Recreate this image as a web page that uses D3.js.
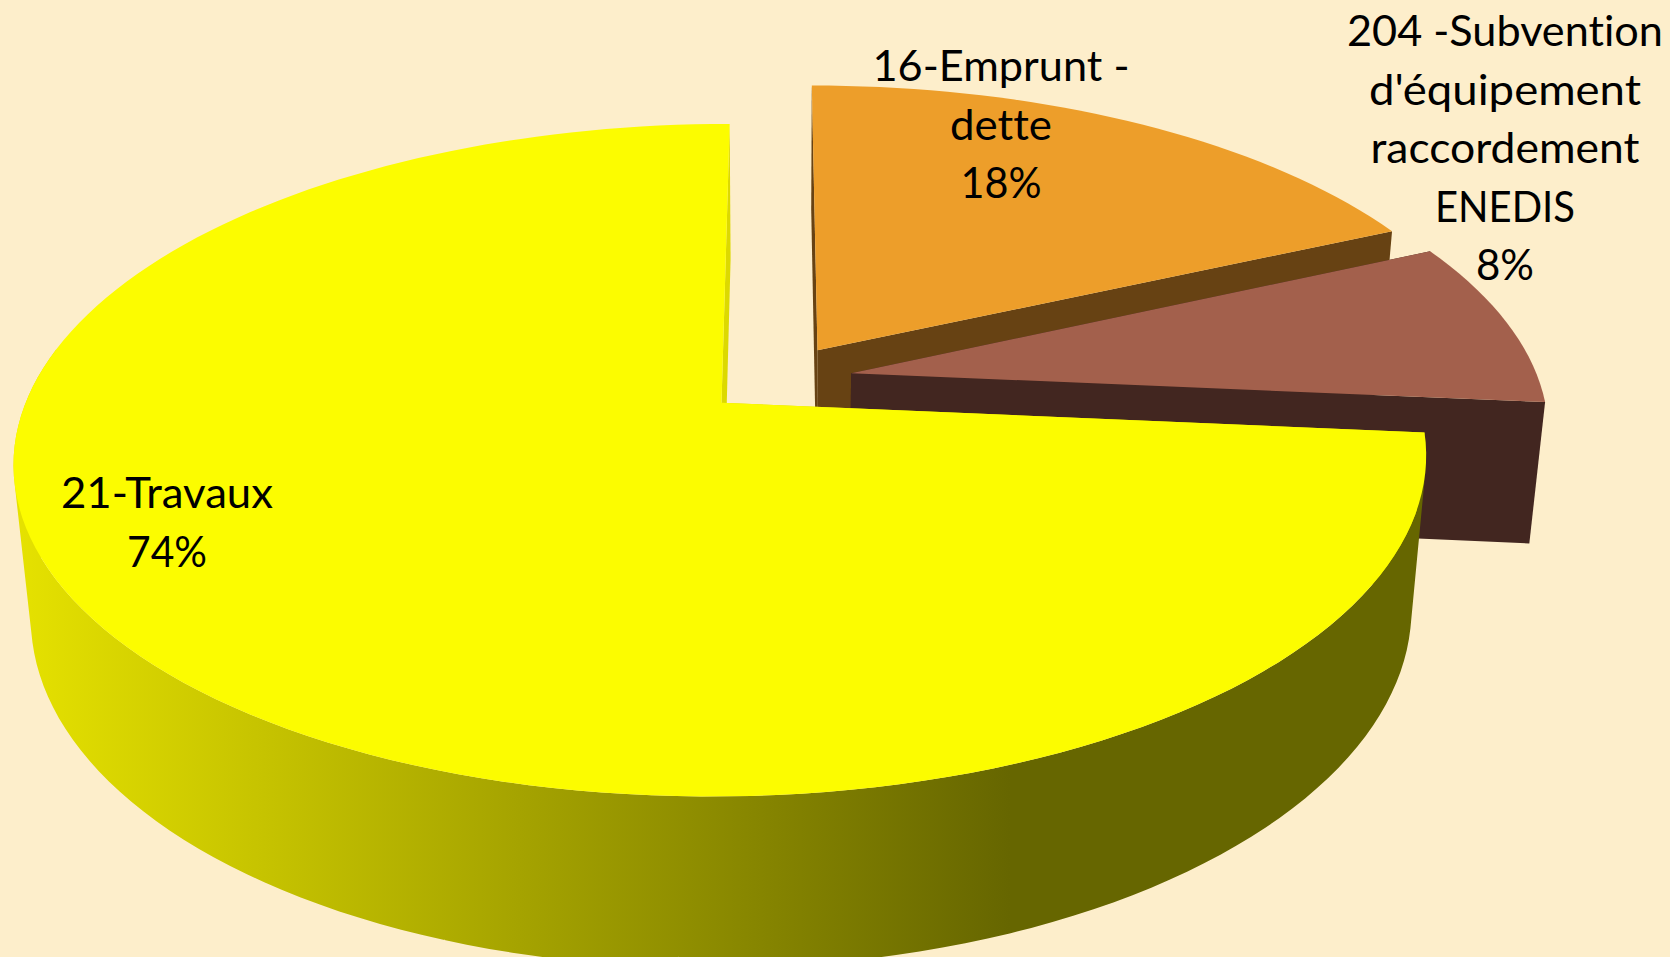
<!DOCTYPE html>
<html lang="fr">
<head>
<meta charset="utf-8">
<title>Investissement</title>
<script src="https://cdn.jsdelivr.net/npm/d3@7"></script>
<style>
  html, body { margin: 0; padding: 0; background: #fdeecb; overflow: hidden; }
  svg { display: block; }
  text { font-family: Lato, "Noto Sans", sans-serif; fill: #000; font-variant-ligatures: none; }
</style>
</head>
<body>
<script>
// values
var categories = ["16-Emprunt - dette", "204 -Subvention d'équipement raccordement ENEDIS", "21-Travaux"];
var values = [18.24, 8.19, 73.57];
var labelLines = [
  ["16-Emprunt -", "dette", "18%"],
  ["204 -Subvention", "d'équipement", "raccordement", "ENEDIS", "8%"],
  ["21-Travaux", "74%"]
];

var topColors = ["#ed9e2a", "#a3604c", "#fcfc00"];
var sideColors = ["#674213", "#422620", "#dcd900"];
var sliceThick = [0.235, 0.235, 0.252];
var labelX = [1001, 1505, 167];
var labelY = [81, 46, 508];
// line widths in px, Lato is not quite Calibri
var labelWidths = [
  [257, 102, 81],
  [316, 272, 269, 140, 58],
  [212, 80]
];

var w = 1670, h = 957;
var lineGap = 58.5;
var fontSize = 43;

// 3d camera looking down on the pie
var tilt = 27.6 * Math.PI / 180;
var camDist = 5.25;
var focal = 3608;
var camX = 777.5, camY = 379;
var explode = 0.109;

function project(X, Y, Z) {
  var yc = Y * Math.cos(tilt) + Z * Math.sin(tilt);
  var zc = camDist + Z * Math.cos(tilt) - Y * Math.sin(tilt);
  return [camX + focal * X / zc, camY - focal * yc / zc];
}

var pie = d3.pie().sort(null)(values);
var line = d3.line();

var svg = d3.select("body").append("svg")
  .attr("width", w)
  .attr("height", h);

var grad = svg.append("defs").append("linearGradient")
  .attr("id", "sideGrad")
  .attr("gradientUnits", "userSpaceOnUse")
  .attr("x1", 14).attr("x2", 1010)
  .attr("y1", 0).attr("y2", 0);
grad.append("stop").attr("offset", 0).attr("stop-color", "#e6e200");
grad.append("stop").attr("offset", 1).attr("stop-color", "#666600");

pie.forEach(function(d, i) {
  var mid = (d.startAngle + d.endAngle) / 2;
  var ox = explode * Math.sin(mid), oz = explode * Math.cos(mid);
  var thick = sliceThick[i];
  var pt = function(a, r, y) {
    return project(ox + r * Math.sin(a), y, oz + r * Math.cos(a));
  };
  var n = Math.ceil((d.endAngle - d.startAngle) / 0.03);
  var arc = d3.range(n + 1).map(function(k) {
    return d.startAngle + k / n * (d.endAngle - d.startAngle);
  });
  var g = svg.append("g").attr("class", "slice");

  // cut faces
  [d.startAngle, d.endAngle].forEach(function(a) {
    g.append("path")
      .attr("d", line([pt(0, 0, 0), pt(a, 1, 0), pt(a, 1, -thick), pt(0, 0, -thick)]) + "Z")
      .attr("fill", sideColors[i]);
  });

  // outer rim, only the yellow one faces the camera
  if (i == 2) {
    // all strips in one path so no seams show, same winding or they cancel out
    var rim = d3.pairs(arc)
      .filter(function(p) { return Math.cos(p[0]) < 0.15; })
      .map(function(p) {
        var quad = [pt(p[0], 1, 0), pt(p[1], 1, 0), pt(p[1], 1, -thick), pt(p[0], 1, -thick)];
        if (d3.polygonArea(quad) < 0) quad.reverse();
        return line(quad) + "Z";
      })
      .join("");
    g.append("path")
      .attr("class", "rim")
      .attr("d", rim)
      .attr("fill", "url(#sideGrad)");
  }

  // top face
  var top = [pt(0, 0, 0)].concat(arc.map(function(a) { return pt(a, 1, 0); }));
  g.append("path")
    .attr("class", "top")
    .attr("d", line(top) + "Z")
    .attr("fill", topColors[i]);
});

labelLines.forEach(function(lines, i) {
  svg.append("g").attr("class", "label")
    .selectAll("text")
    .data(lines)
    .enter().append("text")
    .attr("x", labelX[i])
    .attr("y", function(d, k) { return labelY[i] + k * lineGap; })
    .attr("text-anchor", "middle")
    .attr("font-size", fontSize)
    .attr("textLength", function(d, k) { return labelWidths[i][k]; })
    .attr("lengthAdjust", "spacingAndGlyphs")
    .text(function(d) { return d; });
});
</script>
</body>
</html>
